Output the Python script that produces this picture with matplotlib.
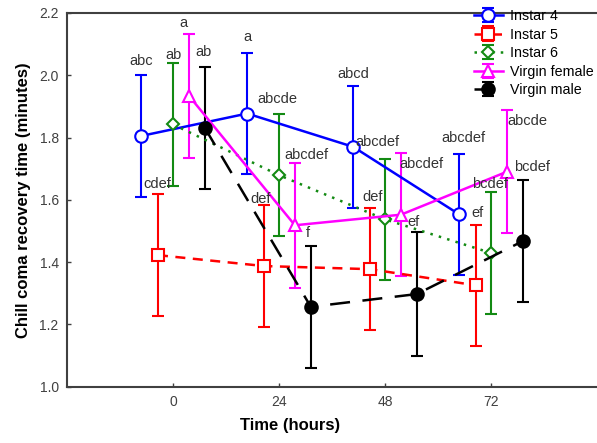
import matplotlib
matplotlib.use("Agg")
import matplotlib.pyplot as plt

plt.rcParams['font.family'] = ['Liberation Sans', 'DejaVu Sans']

# sampling times (hours) and group means / standard errors
hours = [0, 24, 48, 72]
groups = ['Instar 4', 'Instar 5', 'Instar 6', 'Virgin female', 'Virgin male']

instar4_mean = [1.805, 1.877, 1.770, 1.553]
instar4_err = [0.195, 0.195, 0.195, 0.195]
instar5_mean = [1.422, 1.387, 1.377, 1.325]
instar5_err = [0.197, 0.197, 0.197, 0.195]
instar6_mean = [1.842, 1.679, 1.537, 1.429]
instar6_err = [0.197, 0.196, 0.195, 0.196]
female_mean = [1.934, 1.518, 1.552, 1.690]
female_err = [0.200, 0.200, 0.198, 0.198]
male_mean = [1.831, 1.256, 1.297, 1.467]
male_err = [0.195, 0.196, 0.198, 0.197]

# significance letters
instar4_letters = ['abc', 'a', 'abcd', 'abcdef']
instar5_letters = ['cdef', 'def', 'def', 'ef']
instar6_letters = ['ab', 'abcde', 'abcdef', 'bcdef']
female_letters = ['a', 'abcdef', 'abcdef', 'abcde']
male_letters = ['ab', 'f', 'ef', 'bcdef']

means = [instar4_mean, instar5_mean, instar6_mean, female_mean, male_mean]
errs = [instar4_err, instar5_err, instar6_err, female_err, male_err]
letters = [instar4_letters, instar5_letters, instar6_letters, female_letters, male_letters]

# styling / layout
dodge = [-7.2, -3.4, 0.0, 3.6, 7.2]
colors = ['#0000ff', '#ff0000', '#138a13', '#ff00ff', '#000000']
markers = ['o', 's', 'D', '^', 'o']
msizes = [9, 8, 6, 8, 9]
faces = ['white', 'white', 'white', 'white', 'black']
lstyles = ['-', (0, (4, 3)), (0, (1, 2.5)), '-', (0, (8, 5))]
# label offsets in pixels relative to the top of each error bar
label_off = [
    [(0, 14), (0, 16), (0, 12), (4, 16)],
    [(-1, 10), (-3, 6), (3, 11), (2, 12)],
    [(0, 8), (-2, 15), (-8, 17), (-1, 8)],
    [(-5, 11), (12, 8), (21, -11), (20, -11)],
    [(-1, 15), (-3, 13), (-3, 10), (9, 13)],
]

fig = plt.figure(figsize=(5.97, 4.43), dpi=100)
ax = fig.add_axes([67/597, 1 - 386.5/443, 1 - 67/597, (386.5 - 13)/443])

for i, name in enumerate(groups):
    xs = [h + dodge[i] for h in hours]
    ax.errorbar(xs, means[i], yerr=errs[i], color=colors[i], ls=lstyles[i],
                lw=1.8, marker=markers[i], ms=msizes[i], mfc=faces[i],
                mec=colors[i], mew=1.5, capsize=4.5, capthick=1.5,
                elinewidth=1.5, label=name, zorder=3)
    for j in range(len(hours)):
        top = means[i][j] + errs[i][j]
        ax.annotate(letters[i][j], (xs[j], top), xytext=label_off[i][j],
                    textcoords='offset pixels', ha='center', va='center',
                    fontsize=10.5, color='#333333', zorder=5)

ax.set_xlim(-24, 96)
ax.set_ylim(1.0, 2.2)
ax.set_xticks(hours)
ax.set_yticks([1.0, 1.2, 1.4, 1.6, 1.8, 2.0, 2.2])
ax.set_yticklabels(['1.0', '1.2', '1.4', '1.6', '1.8', '2.0', '2.2'])
ax.tick_params(direction='in', length=3, width=1, colors='#404040',
               labelsize=10, labelcolor='#404040', pad=6)
for s in ['left', 'bottom', 'top']:
    ax.spines[s].set_color('#404040')
    ax.spines[s].set_linewidth(1.5)
ax.spines['right'].set_visible(False)

ax.set_xlabel('Time (hours)', fontsize=12, fontweight='bold')
ax.xaxis.set_label_coords((290 - 67) / 530, -0.085)
ax.set_ylabel('Chill coma recovery time (minutes)', fontsize=12, fontweight='bold')
ax.yaxis.set_label_coords(-0.068, 0.5)

ax.legend(loc='upper left', bbox_to_anchor=(474/597, 1 - 9/443),
          bbox_transform=fig.transFigure, frameon=False, fontsize=10.3,
          handlelength=2.0, handletextpad=0.5, labelspacing=0.32,
          borderpad=0, borderaxespad=0)

fig.savefig('out.png', dpi=100)
